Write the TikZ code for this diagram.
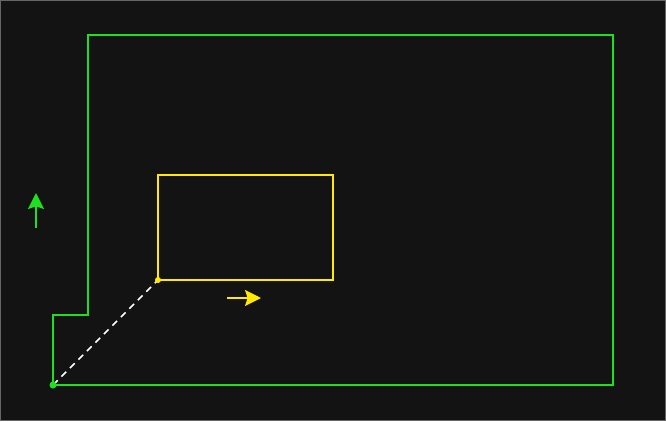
\documentclass[tikz,border=0pt]{standalone}
\usetikzlibrary{arrows.meta}
\definecolor{bgdark}{HTML}{131313}
\definecolor{wallgreen}{HTML}{1EE01E}
\definecolor{boxyellow}{HTML}{FFEA00}
\tikzset{
  wall/.style={draw=wallgreen,line width=1.5pt},
  box/.style={draw=boxyellow,line width=1.2pt},
  dir/.style={line width=1.5pt,-{Stealth[length=12pt,width=12pt,inset=2pt]}}
}
\begin{document}
\begin{tikzpicture}[x=0.75pt,y=-0.75pt]
\useasboundingbox (0,0) rectangle (666,421);
\draw[fill=bgdark,draw=black!60,line width=1pt] (0.5,0.5) rectangle (665.5,420.5);
% outline of the room
\draw[wall] (53,385) -- (53,315) -- (88,315) -- (88,35) -- (613,35) -- (613,385) -- cycle;
% the inner box
\draw[box] (158,175) rectangle (333,280);
\coordinate (start) at (53,385);
\coordinate (corner) at (158,280);
\draw[white,dashed,line width=1.2pt,dash pattern=on 5pt off 4pt] (start) -- (corner);
\fill[wallgreen] (start) circle (3.5);
\fill[boxyellow] (corner) circle (3);
% directions
\draw[dir,color=wallgreen] (36,228) -- (36,193);
\draw[dir,color=boxyellow] (227,298) -- (261,298);
\end{tikzpicture}
\end{document}
